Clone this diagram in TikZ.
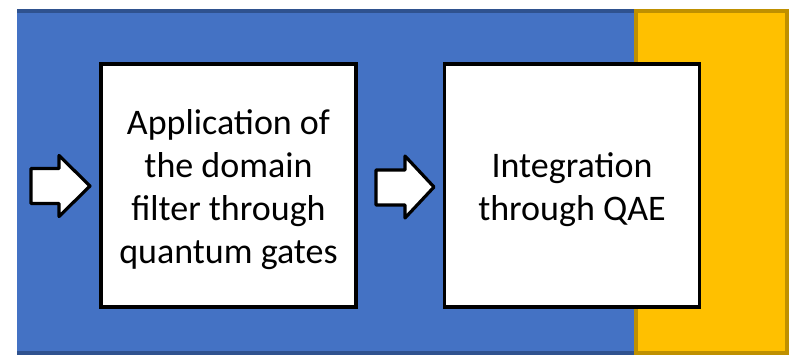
\documentclass[tikz,border=0pt]{standalone}
\usepackage{fontspec}
\setmainfont{Carlito}
\definecolor{panelblue}{HTML}{4472C4}
\definecolor{panelblueedge}{HTML}{2F528F}
\definecolor{panelgold}{HTML}{FFC000}
\definecolor{panelgoldedge}{HTML}{BF9000}
\tikzset{
  panel/.style={line width=2.4pt},
  stagebox/.style={draw=black, fill=white, line width=2.4pt, minimum width=255*0.75pt,
    minimum height=243*0.75pt, inner sep=0pt},
  stagetext/.style={align=center, inner sep=0pt,
    font=\fontsize{27}{32.2}\selectfont},
  blockarrow/.style={draw=black, fill=white, line width=2.4pt, line join=round}
}
\begin{document}
\begin{tikzpicture}[x=0.75pt,y=-0.75pt]
\useasboundingbox (0,0) rectangle (795,361);
% background panels
\fill[panelblue] (17,11) rectangle (636,353);
\draw[panel, draw=panelblueedge] (17,11) -- (636,11);
\draw[panel, draw=panelblueedge] (17,353) -- (636,353);
\draw[panel, draw=panelgoldedge, fill=panelgold] (636,11) rectangle (787,353);
% processing stages
\node[stagebox] (filter) at (228.5,185.5) {};
\node[stagetext] (filtertext) at ([yshift=-3pt]filter.center) {Application of\\the domain\\filter through\\quantum gates};
\node[stagebox] (qae) at (572,185.5) {};
\node[stagetext] (qaetext) at ([yshift=-3pt]qae.center) {Integration\\through QAE};
% input arrow
\draw[blockarrow] (31,168.5) -- (59,168.5) -- (59,155.5) -- (90,186) -- (59,216.5) -- (59,203.5) -- (31,203.5) -- cycle;
% arrow between stages
\draw[blockarrow] (376,170) -- (405,170) -- (405,156) -- (434,187) -- (405,218) -- (405,205) -- (376,205) -- cycle;
\end{tikzpicture}
\end{document}
